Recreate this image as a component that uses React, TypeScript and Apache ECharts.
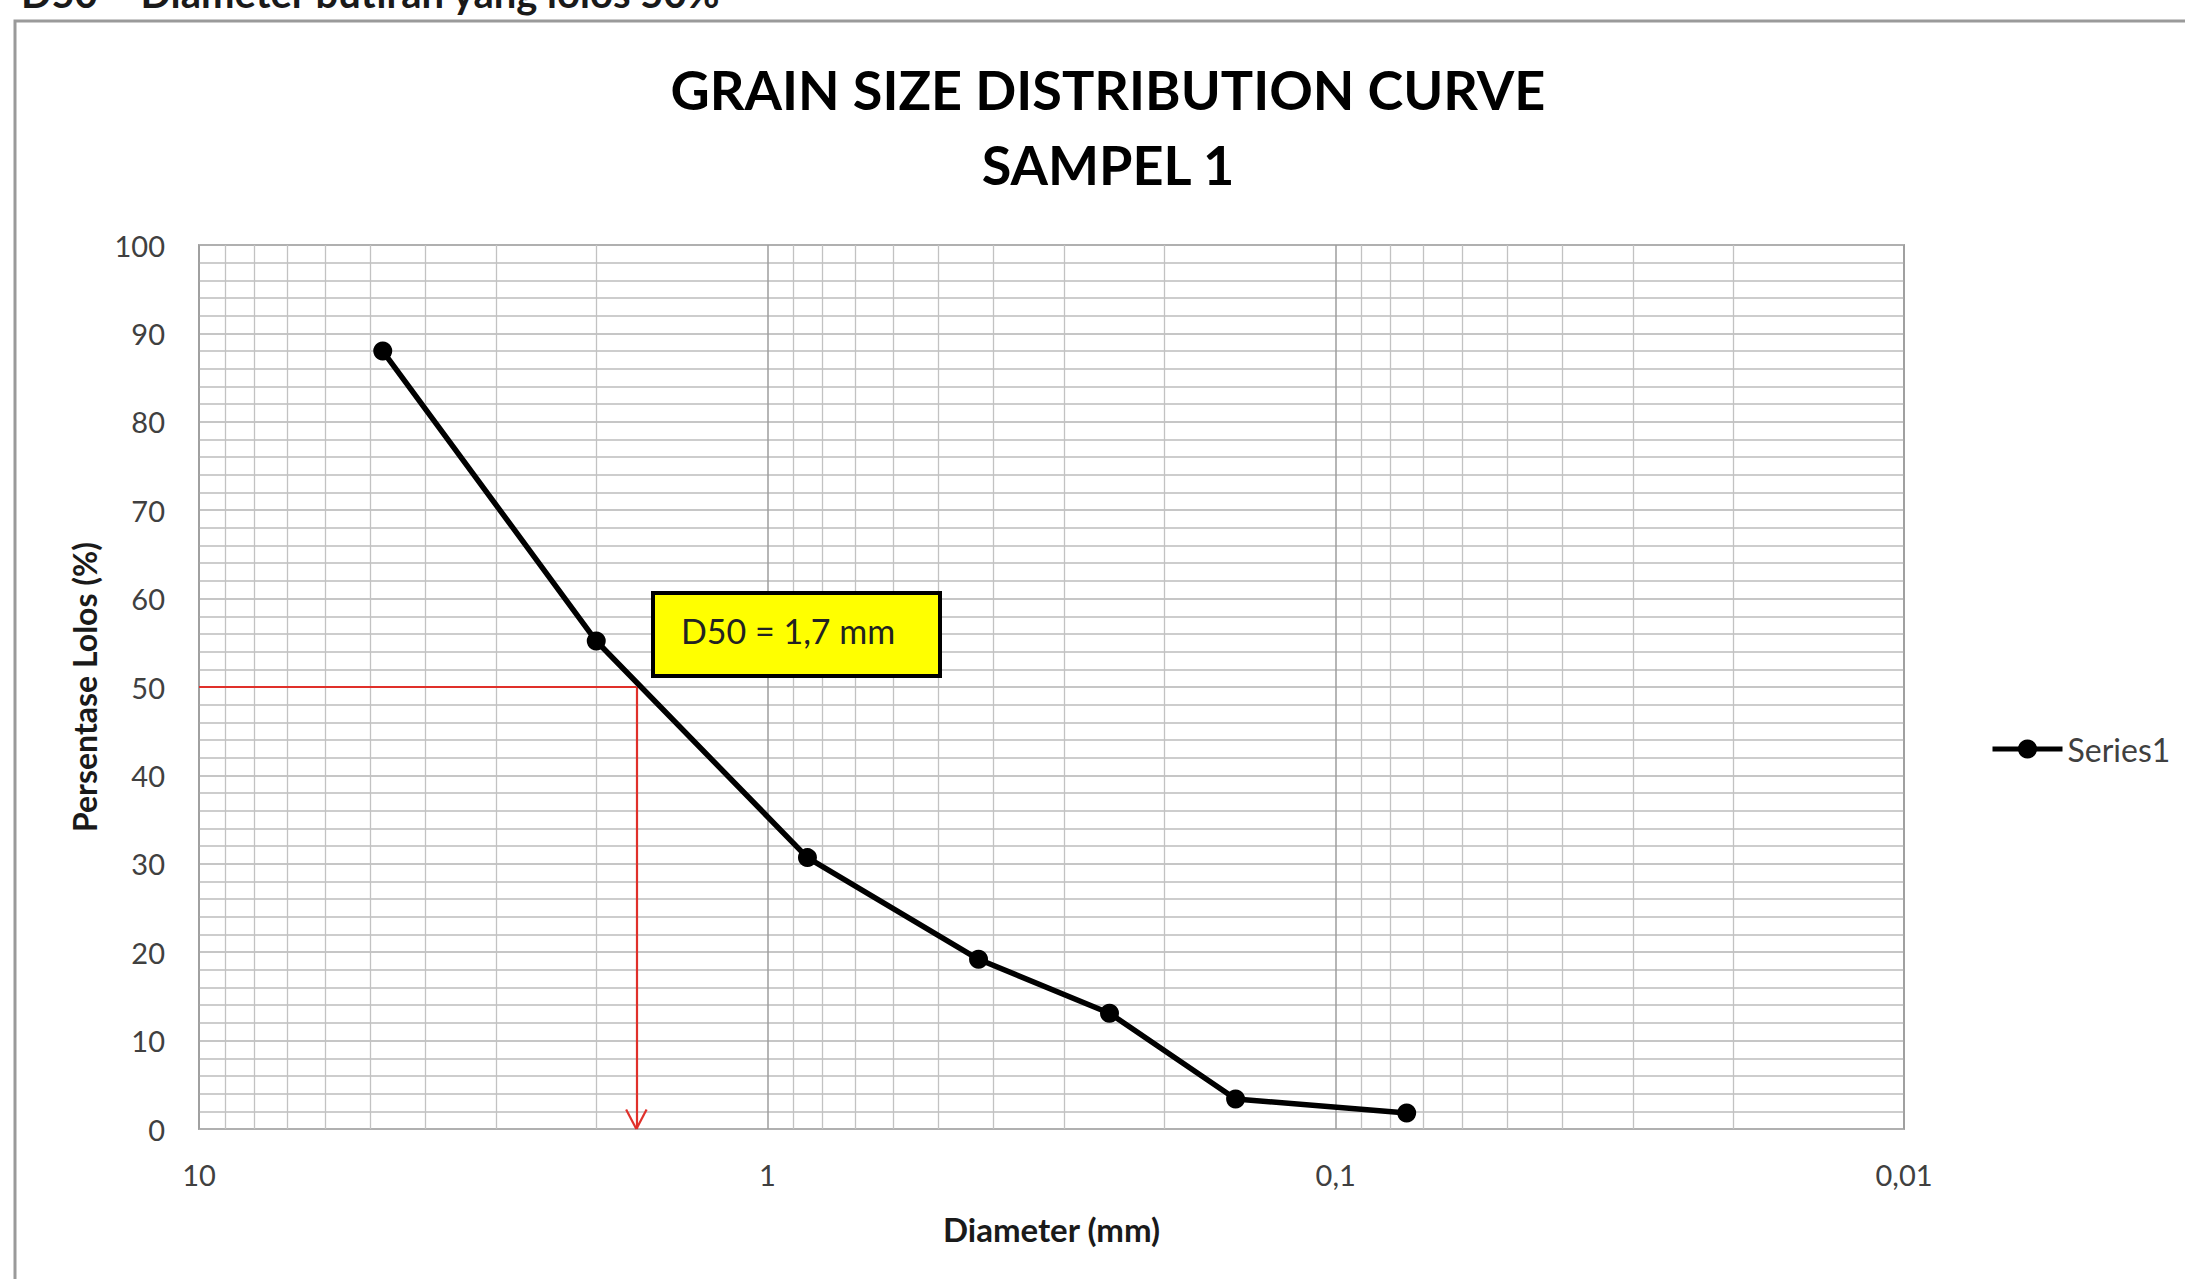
import React, { useEffect, useRef } from "react";
import * as echarts from "echarts";

// ---- data ----
const SERIES_NAME = "Series1";
const DIAMETERS = [4.75, 2.0, 0.85, 0.425, 0.25, 0.15, 0.075];
const PERCENT_PASSING = [88.0, 55.2, 30.7, 19.2, 13.1, 3.4, 1.8];
const X_TICK_VALUES = [10, 1, 0.1, 0.01];
const X_TICK_LABELS = ["10", "1", "0,1", "0,01"];
const MINOR_DECADES = [1, 0.1, 0.01];
const MINOR_STEPS = [2, 3, 4, 5, 6, 7, 8, 9];
const D50_VALUE = 1.7;
const D50_PERCENT = 50;
const D50_LABEL = "D50 = 1,7 mm";
const TITLE_LINES = ["GRAIN SIZE DISTRIBUTION CURVE", "SAMPEL 1"];
const HEADER_TEXT = "D50 = Diameter butiran yang lolos 50%";
const X_AXIS_NAME = "Diameter (mm)";
const Y_AXIS_NAME = "Persentase Lolos (%)";

const FONT = "Lato";

export default function App() {
  const ref = useRef<HTMLDivElement>(null);

  useEffect(() => {
    const el = ref.current;
    if (!el) return;
    const chart = echarts.init(el, undefined, { renderer: "svg" });

    const minorValues: number[] = [];
    MINOR_DECADES.forEach((d) =>
      MINOR_STEPS.forEach((s) => minorValues.push(Number((s * d).toPrecision(6))))
    );

    const xLeft = X_TICK_VALUES[0];
    const arrowSpread = Math.pow(10, 0.018);
    const arrowLift = 2.2;

    const option: any = {
      animation: false,
      backgroundColor: "#ffffff",
      textStyle: { fontFamily: FONT },
      grid: {
        left: 199,
        top: 245,
        width: 1705,
        height: 884,
        show: true,
        borderColor: "#a6a6a6",
        borderWidth: 2,
        backgroundColor: "transparent",
      },
      legend: {
        data: [SERIES_NAME],
        left: 1985,
        top: 728,
        itemWidth: 70,
        itemHeight: 24,
        lineStyle: { width: 5 },
        textStyle: { fontSize: 32, color: "#404040", fontFamily: FONT },
      },
      xAxis: {
        type: "log",
        logBase: 10,
        min: 0.01,
        max: 10,
        inverse: true,
        splitNumber: 3,
        axisLine: { show: false },
        axisTick: { show: false },
        axisLabel: {
          fontSize: 29,
          color: "#404040",
          margin: 31,
          showMinLabel: true,
          showMaxLabel: true,
          formatter: (v: number) => {
            const i = X_TICK_VALUES.findIndex(
              (t) => Math.abs(Math.log10(t) - Math.log10(v)) < 1e-6
            );
            return i >= 0 ? X_TICK_LABELS[i] : "";
          },
        },
        splitLine: { show: true, lineStyle: { color: "#9e9e9e", width: 1.5 } },
        name: X_AXIS_NAME,
        nameLocation: "middle",
        nameGap: 83,
        nameTextStyle: { fontSize: 33, fontWeight: "bold", color: "#1a1a1a" },
      },
      yAxis: {
        type: "value",
        min: 0,
        max: 100,
        interval: 10,
        axisLine: { show: false },
        axisTick: { show: false },
        axisLabel: { fontSize: 29, color: "#404040", margin: 34 },
        splitLine: { show: true, lineStyle: { color: "#b3b3b3", width: 1.5 } },
        minorTick: { show: false, splitNumber: 5 },
        minorSplitLine: { show: true, lineStyle: { color: "#bdbdbd", width: 1.5 } },
        name: Y_AXIS_NAME,
        nameLocation: "middle",
        nameGap: 99,
        nameTextStyle: { fontSize: 32, fontWeight: "bold", color: "#1a1a1a" },
      },
      series: [
        {
          name: "grid-minor",
          type: "line",
          data: [],
          silent: true,
          markLine: {
            silent: true,
            z: 1,
            symbol: ["none", "none"],
            label: { show: false },
            emphasis: { disabled: true },
            lineStyle: { type: "solid", color: "#c2c2c2", width: 1.3 },
            data: minorValues.map((v) => ({ xAxis: v })),
          },
        },
        {
          name: "d50",
          type: "line",
          data: [],
          silent: true,
          markLine: {
            silent: true,
            z: 2,
            symbol: ["none", "none"],
            label: { show: false },
            emphasis: { disabled: true },
            lineStyle: { type: "solid", color: "#e0302a", width: 2.2 },
            data: [
              [{ coord: [xLeft, D50_PERCENT] }, { coord: [D50_VALUE, D50_PERCENT] }],
              [{ coord: [D50_VALUE, D50_PERCENT] }, { coord: [D50_VALUE, 0] }],
              [{ coord: [D50_VALUE * arrowSpread, arrowLift] }, { coord: [D50_VALUE, 0] }],
              [{ coord: [D50_VALUE / arrowSpread, arrowLift] }, { coord: [D50_VALUE, 0] }],
            ],
          },
        },
        {
          name: SERIES_NAME,
          type: "line",
          z: 5,
          data: DIAMETERS.map((d, i) => [d, PERCENT_PASSING[i]]),
          symbol: "circle",
          symbolSize: 19,
          lineStyle: { color: "#000000", width: 5.5 },
          itemStyle: { color: "#000000" },
        },
      ],
      graphic: [
        {
          type: "rect",
          silent: true,
          z: -1,
          shape: { x: 15, y: 21, width: 2300, height: 1400 },
          style: { fill: "none", stroke: "#9a9a9a", lineWidth: 3 },
        },
        {
          type: "text",
          x: 21,
          y: -7,
          style: {
            text: HEADER_TEXT,
            fontSize: 40,
            fontWeight: "bold",
            fontFamily: FONT,
            fill: "#1a1a1a",
            verticalAlign: "middle",
          },
        },
        {
          type: "text",
          x: 1108,
          y: 89,
          style: {
            text: TITLE_LINES[0],
            fontSize: 54,
            fontWeight: "bold",
            fontFamily: FONT,
            fill: "#000000",
            align: "center",
            verticalAlign: "middle",
          },
        },
        {
          type: "text",
          x: 1108,
          y: 164,
          style: {
            text: TITLE_LINES[1],
            fontSize: 54,
            fontWeight: "bold",
            fontFamily: FONT,
            fill: "#000000",
            align: "center",
            verticalAlign: "middle",
          },
        },
        {
          type: "rect",
          z: 10,
          shape: { x: 653, y: 593, width: 287, height: 83 },
          style: { fill: "#ffff00", stroke: "#000000", lineWidth: 4 },
        },
        {
          type: "text",
          z: 11,
          x: 681,
          y: 630,
          style: {
            text: D50_LABEL,
            fontSize: 34,
            fontFamily: FONT,
            fill: "#222222",
            verticalAlign: "middle",
          },
        },
      ],
    };

    chart.setOption(option);
    return () => chart.dispose();
  }, []);

  return (
    <div
      ref={ref}
      style={{
        position: "fixed",
        left: 0,
        top: 0,
        width: 2185,
        height: 1279,
        background: "#ffffff",
      }}
    />
  );
}
